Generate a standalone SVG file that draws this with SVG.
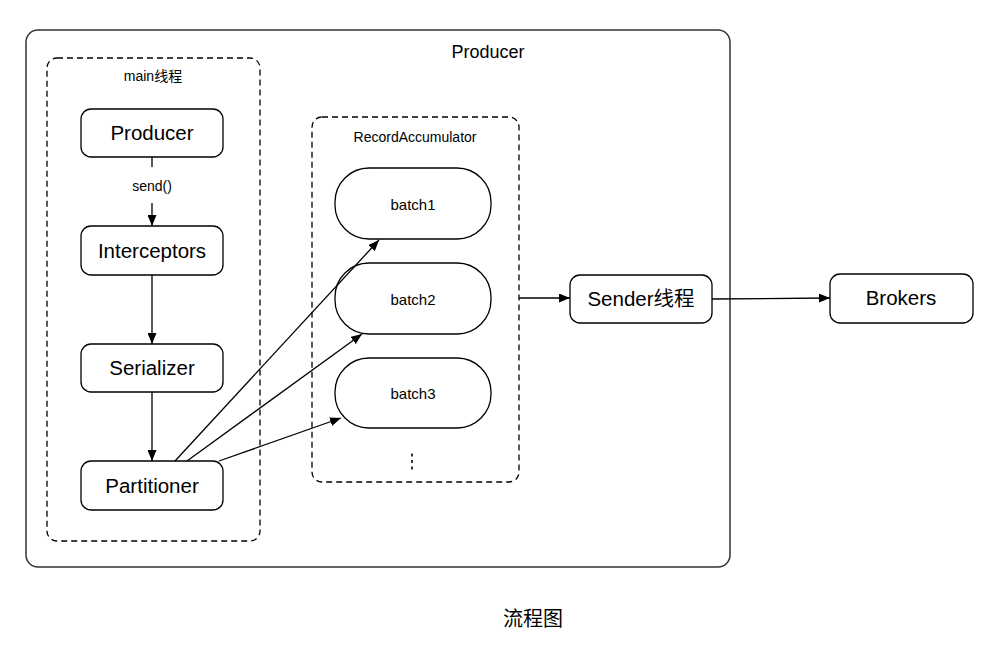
<svg xmlns="http://www.w3.org/2000/svg" width="1000" height="650" viewBox="0 0 1000 650">
<defs>
<style>
.node{fill:#fff;stroke:#000;stroke-width:1.3}
.grp{fill:none;stroke:#000;stroke-width:1.3;stroke-dasharray:6,4}
.t{font-family:"Liberation Sans","Noto Sans CJK SC",sans-serif;fill:#000;text-anchor:middle}
.edge{fill:none;stroke:#000;stroke-width:1.3}
</style>
<marker id="ah" viewBox="0 0 10 10" refX="10" refY="5" markerWidth="11" markerHeight="9" markerUnits="userSpaceOnUse" orient="auto" preserveAspectRatio="none">
<path d="M0,0 L10,5 L0,10 z" fill="#000"/>
</marker>
</defs>
<rect width="1000" height="650" fill="#fff"/>
<g id="producer-outer">
<rect x="26" y="30" width="704" height="537" rx="12" fill="none" stroke="#333" stroke-width="1.5"/>
<text class="t" x="488" y="58" font-size="18">Producer</text>
</g>
<g id="main-thread">
<rect class="grp" x="47" y="58" width="213" height="483" rx="10"/>
<text class="t" x="153" y="81" font-size="14">main线程</text>
</g>
<g id="record-accumulator">
<rect class="grp" x="312" y="117" width="207" height="365" rx="10"/>
<text class="t" x="415" y="142" font-size="14">RecordAccumulator</text>
<line x1="412" y1="453.5" x2="412" y2="470" stroke="#000" stroke-width="1.6" stroke-dasharray="3,3.5"/>
</g>
<g id="node-producer">
<rect class="node" x="81" y="109" width="142" height="48" rx="10"/>
<text class="t" x="152" y="140" font-size="20.5">Producer</text>
</g>
<g id="node-interceptors">
<rect class="node" x="81" y="226" width="142" height="49" rx="10"/>
<text class="t" x="152" y="258" font-size="20.5">Interceptors</text>
</g>
<g id="node-serializer">
<rect class="node" x="81" y="344" width="142" height="48" rx="10"/>
<text class="t" x="152" y="375" font-size="20.5">Serializer</text>
</g>
<g id="node-partitioner">
<rect class="node" x="81" y="461" width="142" height="49" rx="10"/>
<text class="t" x="152" y="493" font-size="20.5">Partitioner</text>
</g>
<g id="node-batch1">
<rect class="node" x="335" y="168" width="156" height="71" rx="34" ry="34"/>
<text class="t" x="413" y="210" font-size="15">batch1</text>
</g>
<g id="node-batch2">
<rect class="node" x="335" y="263" width="156" height="71" rx="34" ry="34"/>
<text class="t" x="413" y="305" font-size="15">batch2</text>
</g>
<g id="node-batch3">
<rect class="node" x="335" y="358" width="156" height="70" rx="34" ry="34"/>
<text class="t" x="413" y="399" font-size="15">batch3</text>
</g>
<g id="node-sender">
<rect class="node" x="570" y="275" width="142" height="48" rx="10"/>
<text class="t" x="641" y="306" font-size="20.5">Sender线程</text>
</g>
<g id="node-brokers">
<rect class="node" x="830" y="274" width="143" height="49" rx="10"/>
<text class="t" x="901" y="305" font-size="20.5">Brokers</text>
</g>
<g id="connectors">
<line class="edge" x1="152" y1="157" x2="152" y2="167"/>
<text class="t" x="152" y="191" font-size="14">send()</text>
<line class="edge" x1="152" y1="203" x2="152" y2="226" marker-end="url(#ah)"/>
<line class="edge" x1="152" y1="275" x2="152" y2="344" marker-end="url(#ah)"/>
<line class="edge" x1="152" y1="392" x2="152" y2="461" marker-end="url(#ah)"/>
<line class="edge" x1="175" y1="461" x2="379" y2="240" marker-end="url(#ah)"/>
<line class="edge" x1="187" y1="461" x2="362" y2="334" marker-end="url(#ah)"/>
<line class="edge" x1="219" y1="461" x2="341" y2="418" marker-end="url(#ah)"/>
<line class="edge" x1="519" y1="298" x2="570" y2="298" marker-end="url(#ah)"/>
<line class="edge" x1="712" y1="299" x2="830" y2="298" marker-end="url(#ah)"/>
</g>
<text class="t" x="533" y="626" font-size="20">流程图</text>
</svg>
